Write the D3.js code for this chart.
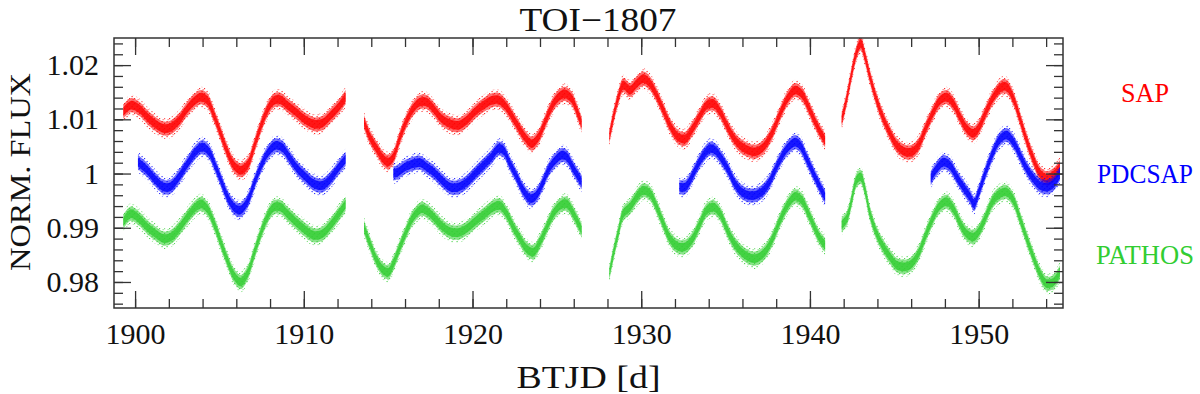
<!DOCTYPE html>
<html>
<head>
<meta charset="utf-8">
<script src="https://cdn.jsdelivr.net/npm/d3@7"></script>
<style>
  body { margin: 0; background: #fff; }
  svg { display: block; }
  text { font-family: "Liberation Serif", "DejaVu Serif", serif; }
</style>
</head>
<body>
<script>
// TOI-1807 light curves (BTJD, normalised flux)
var sap = [
  [1899.30,1.0114],[1899.74,1.0126],[1900.23,1.0120],[1900.73,1.0104],[1901.22,1.0091],[1901.71,1.0083],
  [1902.11,1.0085],[1902.60,1.0098],[1903.10,1.0120],[1903.59,1.0136],[1903.93,1.0141],[1904.28,1.0135],
  [1904.68,1.0107],[1905.07,1.0074],[1905.47,1.0040],[1905.86,1.0015],[1906.26,1.0006],[1906.65,1.0015],
  [1907.05,1.0049],[1907.44,1.0086],[1907.84,1.0117],[1908.23,1.0135],[1908.63,1.0136],[1909.02,1.0126],
  [1909.52,1.0114],[1910.01,1.0101],[1910.60,1.0091],[1911.10,1.0093],[1911.59,1.0107],[1912.09,1.0124],
  [1912.48,1.0141],
  [1913.57,1.0095],[1913.92,1.0067],[1914.32,1.0046],[1914.71,1.0027],[1915.01,1.0021],[1915.31,1.0031],
  [1915.70,1.0067],[1916.10,1.0098],[1916.49,1.0120],[1916.89,1.0132],[1917.28,1.0132],[1917.68,1.0120],
  [1918.17,1.0101],[1918.67,1.0092],[1919.16,1.0089],[1919.65,1.0098],[1920.15,1.0114],[1920.64,1.0126],
  [1921.14,1.0135],[1921.53,1.0136],[1921.93,1.0126],[1922.32,1.0107],[1922.72,1.0086],[1923.11,1.0067],
  [1923.51,1.0055],[1923.90,1.0067],[1924.30,1.0095],[1924.69,1.0123],[1925.09,1.0141],[1925.48,1.0147],
  [1925.88,1.0138],[1926.17,1.0117],[1926.47,1.0092],
  [1928.11,1.0067],[1928.35,1.0104],[1928.65,1.0141],[1928.94,1.0163],[1929.34,1.0154],[1929.73,1.0166],
  [1930.13,1.0175],[1930.52,1.0166],[1930.92,1.0144],[1931.31,1.0117],[1931.71,1.0089],[1932.20,1.0067],
  [1932.60,1.0064],[1932.99,1.0080],[1933.49,1.0107],[1933.88,1.0126],[1934.28,1.0129],[1934.67,1.0114],
  [1935.07,1.0089],[1935.46,1.0067],[1935.86,1.0052],[1936.35,1.0043],[1936.75,1.0040],[1937.24,1.0049],
  [1937.74,1.0074],[1938.23,1.0110],[1938.72,1.0141],[1939.12,1.0154],[1939.51,1.0147],[1939.91,1.0123],
  [1940.31,1.0095],[1940.60,1.0077],[1940.90,1.0061],
  [1941.88,1.0098],[1942.18,1.0138],[1942.47,1.0184],[1942.77,1.0224],[1943.01,1.0240],[1943.27,1.0215],
  [1943.56,1.0178],[1943.96,1.0135],[1944.35,1.0101],[1944.75,1.0074],[1945.14,1.0052],[1945.64,1.0040],
  [1946.03,1.0040],[1946.43,1.0052],[1946.82,1.0080],[1947.32,1.0114],[1947.71,1.0135],[1948.11,1.0141],
  [1948.50,1.0129],[1948.90,1.0104],[1949.29,1.0083],[1949.69,1.0074],[1949.98,1.0083],[1950.38,1.0110],
  [1950.87,1.0141],[1951.37,1.0160],[1951.66,1.0160],[1952.06,1.0138],[1952.45,1.0101],[1952.85,1.0061],
  [1953.24,1.0027],[1953.64,1.0000],[1954.03,0.9991],[1954.43,0.9997],[1954.82,1.0012]
];

var pdcsap = [
  [1900.17,1.0021],[1900.73,1.0006],[1901.22,0.9988],[1901.71,0.9975],[1902.11,0.9976],[1902.60,0.9994],
  [1903.10,1.0018],[1903.59,1.0040],[1903.99,1.0049],[1904.38,1.0040],[1904.78,1.0012],[1905.17,0.9981],
  [1905.57,0.9951],[1905.96,0.9935],[1906.26,0.9933],[1906.65,0.9948],[1907.05,0.9981],[1907.44,1.0012],
  [1907.84,1.0037],[1908.33,1.0052],[1908.73,1.0048],[1909.12,1.0031],[1909.62,1.0009],[1910.11,0.9994],
  [1910.61,0.9981],[1911.10,0.9978],[1911.59,0.9991],[1912.09,1.0012],[1912.48,1.0027],
  [1915.31,1.0000],[1915.60,1.0003],[1916.00,1.0012],[1916.49,1.0018],[1916.89,1.0020],[1917.28,1.0012],
  [1917.68,1.0003],[1918.17,0.9988],[1918.67,0.9975],[1919.16,0.9975],[1919.65,0.9984],[1920.15,1.0000],
  [1920.64,1.0015],[1921.14,1.0031],[1921.53,1.0046],[1921.83,1.0043],[1922.22,1.0018],[1922.62,0.9994],
  [1923.01,0.9969],[1923.41,0.9954],[1923.70,0.9957],[1924.10,0.9978],[1924.49,1.0006],[1924.89,1.0024],
  [1925.28,1.0034],[1925.58,1.0031],[1925.98,1.0009],[1926.47,0.9984],
  [1932.26,0.9975],[1932.60,0.9975],[1932.90,0.9988],[1933.29,1.0012],[1933.69,1.0034],[1934.08,1.0046],
  [1934.38,1.0043],[1934.77,1.0027],[1935.17,1.0006],[1935.56,0.9981],[1935.96,0.9966],[1936.35,0.9960],
  [1936.75,0.9960],[1937.14,0.9966],[1937.54,0.9981],[1937.93,1.0006],[1938.33,1.0031],[1938.72,1.0049],
  [1939.12,1.0058],[1939.42,1.0052],[1939.81,1.0027],[1940.21,1.0000],[1940.60,0.9975],[1940.90,0.9957],
  [1947.16,0.9991],[1947.51,1.0009],[1947.91,1.0021],[1948.30,1.0015],[1948.70,0.9994],[1949.09,0.9975],
  [1949.49,0.9957],[1949.73,0.9944],[1949.98,0.9963],[1950.38,1.0000],[1950.87,1.0040],[1951.27,1.0064],
  [1951.66,1.0071],[1952.06,1.0058],[1952.45,1.0034],[1952.85,1.0009],[1953.24,0.9991],[1953.64,0.9978],
  [1954.03,0.9975],[1954.43,0.9981],[1954.82,1.0000]
];

var pathos = [
  [1899.30,0.9911],[1899.74,0.9926],[1900.23,0.9917],[1900.73,0.9901],[1901.22,0.9889],[1901.71,0.9880],
  [1902.11,0.9883],[1902.60,0.9898],[1903.10,0.9920],[1903.59,0.9938],[1903.93,0.9944],[1904.28,0.9935],
  [1904.68,0.9908],[1905.07,0.9874],[1905.47,0.9840],[1905.86,0.9812],[1906.26,0.9800],[1906.65,0.9815],
  [1907.05,0.9852],[1907.44,0.9889],[1907.84,0.9920],[1908.23,0.9938],[1908.63,0.9938],[1909.02,0.9926],
  [1909.52,0.9911],[1910.01,0.9898],[1910.60,0.9886],[1911.10,0.9889],[1911.59,0.9905],[1912.09,0.9926],
  [1912.48,0.9944],
  [1913.57,0.9901],[1913.92,0.9871],[1914.32,0.9840],[1914.71,0.9822],[1915.01,0.9818],[1915.31,0.9834],
  [1915.70,0.9865],[1916.10,0.9895],[1916.49,0.9920],[1916.99,0.9935],[1917.38,0.9929],[1917.78,0.9917],
  [1918.27,0.9901],[1918.76,0.9892],[1919.26,0.9892],[1919.75,0.9901],[1920.25,0.9914],[1920.74,0.9926],
  [1921.23,0.9938],[1921.63,0.9941],[1922.02,0.9926],[1922.42,0.9901],[1922.81,0.9880],[1923.21,0.9861],
  [1923.60,0.9855],[1924.00,0.9874],[1924.40,0.9901],[1924.79,0.9926],[1925.19,0.9941],[1925.58,0.9944],
  [1925.98,0.9926],[1926.47,0.9895],
  [1928.11,0.9815],[1928.35,0.9852],[1928.65,0.9892],[1928.94,0.9926],[1929.34,0.9938],[1929.73,0.9957],
  [1930.13,0.9969],[1930.52,0.9963],[1930.92,0.9938],[1931.31,0.9908],[1931.71,0.9880],[1932.20,0.9865],
  [1932.60,0.9865],[1932.99,0.9877],[1933.49,0.9908],[1933.88,0.9932],[1934.28,0.9938],[1934.67,0.9926],
  [1935.07,0.9898],[1935.46,0.9874],[1935.86,0.9858],[1936.35,0.9846],[1936.75,0.9843],[1937.24,0.9852],
  [1937.74,0.9877],[1938.23,0.9914],[1938.72,0.9944],[1939.12,0.9958],[1939.51,0.9951],[1939.91,0.9926],
  [1940.31,0.9898],[1940.60,0.9880],[1940.90,0.9868],
  [1941.88,0.9905],[1942.18,0.9917],[1942.47,0.9951],[1942.77,0.9988],[1943.01,0.9994],[1943.27,0.9969],
  [1943.56,0.9926],[1943.96,0.9889],[1944.35,0.9865],[1944.75,0.9846],[1945.14,0.9831],[1945.64,0.9828],
  [1946.03,0.9834],[1946.43,0.9852],[1946.82,0.9883],[1947.32,0.9920],[1947.71,0.9941],[1948.11,0.9948],
  [1948.50,0.9935],[1948.90,0.9908],[1949.29,0.9889],[1949.69,0.9883],[1949.98,0.9892],[1950.38,0.9917],
  [1950.87,0.9951],[1951.27,0.9963],[1951.66,0.9966],[1952.06,0.9951],[1952.45,0.9917],[1952.85,0.9880],
  [1953.24,0.9846],[1953.64,0.9815],[1954.03,0.9797],[1954.43,0.9800],[1954.82,0.9818]
];

var seriesNames = ["SAP", "PDCSAP", "PATHOS"];
var seriesColors = ["#ff0000", "#0000ff", "#32cd32"];

// ticks
var xMajorTicks = [1900, 1910, 1920, 1930, 1940, 1950];
var xMinorTicks = d3.range(1900, 1955, 2);
var yMajorTicks = [0.98, 0.99, 1.00, 1.01, 1.02];
var yTickLabels = ["0.98", "0.99", "1", "1.01", "1.02"];
var yMinorTicks = d3.range(0.976, 1.0251, 0.002);

//Define Margin
var margin = {left: 114, right: 137, top: 38, bottom: 86},
    width = 1200 - margin.left - margin.right,
    height = 394 - margin.top - margin.bottom;

var svg = d3.select("body")
    .append("svg")
    .attr("width", 1200)
    .attr("height", 394);

//speckle patterns so the outer part of each band looks like scattered points
var defs = svg.append("defs");
seriesColors.forEach(function(c, k) {
  var p = defs.append("pattern")
    .attr("id", "speck" + k)
    .attr("patternUnits", "userSpaceOnUse")
    .attr("width", 5).attr("height", 5);
  p.append("rect").attr("x", 0).attr("y", 0).attr("width", 1.2).attr("height", 1.2).attr("fill", c);
  p.append("rect").attr("x", 2.5).attr("y", 3).attr("width", 1.2).attr("height", 1.2).attr("fill", c);
  p.append("rect").attr("x", 3.6).attr("y", 1.2).attr("width", 1).attr("height", 1).attr("fill", c);
});

var g = svg.append("g")
    .attr("transform", "translate(" + margin.left + "," + margin.top + ")");

//Define Scales
var xScale = d3.scaleLinear().domain([1898.75, 1955]).range([0, width]);
var yScale = d3.scaleLinear().domain([0.9752, 1.0250]).range([height, 0]);

g.append("clipPath").attr("id", "plotclip")
  .append("rect").attr("width", width).attr("height", height);

// split a series where the data has a gap (between TESS orbits / sectors)
function segments(data) {
  var out = [], cur = [];
  data.forEach(function(d, i) {
    if (i > 0 && d[0] - data[i - 1][0] > 0.8) { out.push(cur); cur = []; }
    cur.push(d);
  });
  out.push(cur);
  return out;
}

// scatter band: a speckled outer cloud plus a denser core
function band(half) {
  return d3.area()
    .curve(d3.curveCatmullRom)
    .x(function(d) { return xScale(d[0]); })
    .y0(function(d) { return yScale(d[1] - half); })
    .y1(function(d) { return yScale(d[1] + half); });
}
var outer = band(0.0019), mid = band(0.0013), inner = band(0.0008);

var plot = g.append("g").attr("clip-path", "url(#plotclip)");
[sap, pdcsap, pathos].forEach(function(s, k) {
  var segs = segments(s);
  plot.selectAll(".outer" + k).data(segs).enter().append("path")
    .attr("d", outer)
    .attr("fill", "url(#speck" + k + ")")
    .attr("opacity", 0.8);
  plot.selectAll(".mid" + k).data(segs).enter().append("path")
    .attr("d", mid)
    .attr("fill", seriesColors[k])
    .attr("opacity", 0.55);
  plot.selectAll(".inner" + k).data(segs).enter().append("path")
    .attr("d", inner)
    .attr("fill", seriesColors[k])
    .attr("opacity", 0.8);
});

// axes, ticks point inward on all four sides
function noLabel() { return ""; }
g.append("g").attr("class", "axis")
  .attr("transform", "translate(0," + height + ")")
  .call(d3.axisBottom(xScale).tickValues(xMinorTicks).tickSize(-9).tickSizeOuter(0).tickFormat(noLabel));
g.append("g").attr("class", "axis")
  .attr("transform", "translate(0," + height + ")")
  .call(d3.axisBottom(xScale).tickValues(xMajorTicks).tickSize(-17).tickSizeOuter(0).tickPadding(15).tickFormat(d3.format("d")));
g.append("g").attr("class", "axis")
  .call(d3.axisTop(xScale).tickValues(xMinorTicks).tickSize(-9).tickSizeOuter(0).tickFormat(noLabel));
g.append("g").attr("class", "axis")
  .call(d3.axisTop(xScale).tickValues(xMajorTicks).tickSize(-17).tickSizeOuter(0).tickFormat(noLabel));

g.append("g").attr("class", "axis")
  .call(d3.axisLeft(yScale).tickValues(yMinorTicks).tickSize(-9).tickSizeOuter(0).tickFormat(noLabel));
g.append("g").attr("class", "axis")
  .call(d3.axisLeft(yScale).tickValues(yMajorTicks).tickSize(-17).tickSizeOuter(0).tickPadding(15)
    .tickFormat(function(d, i) { return yTickLabels[i]; }));
g.append("g").attr("class", "axis")
  .attr("transform", "translate(" + width + ",0)")
  .call(d3.axisRight(yScale).tickValues(yMinorTicks).tickSize(-9).tickSizeOuter(0).tickFormat(noLabel));
g.append("g").attr("class", "axis")
  .attr("transform", "translate(" + width + ",0)")
  .call(d3.axisRight(yScale).tickValues(yMajorTicks).tickSize(-17).tickSizeOuter(0).tickFormat(noLabel));

g.selectAll(".axis .domain").remove();
g.selectAll(".axis line").attr("stroke", "#333").attr("stroke-width", 1.3);
g.selectAll(".axis text")
  .attr("fill", "#111")
  .style("font-family", "'Liberation Serif', serif")
  .style("font-size", "30px");

// frame
g.append("rect")
  .attr("width", width).attr("height", height)
  .attr("fill", "none").attr("stroke", "#333").attr("stroke-width", 1.5);

// title and axis labels
svg.append("text")
  .attr("x", 598).attr("y", 31)
  .attr("text-anchor", "middle")
  .attr("textLength", 157).attr("lengthAdjust", "spacingAndGlyphs")
  .style("font-size", "33px").attr("fill", "#111")
  .text("TOI\u22121807");

svg.append("text")
  .attr("x", margin.left + width / 2).attr("y", 388)
  .attr("text-anchor", "middle")
  .attr("textLength", 144).attr("lengthAdjust", "spacingAndGlyphs")
  .style("font-size", "31px").attr("fill", "#111")
  .text("BTJD [d]");

svg.append("text")
  .attr("transform", "translate(30,172) rotate(-90)")
  .attr("text-anchor", "middle")
  .attr("textLength", 198).attr("lengthAdjust", "spacingAndGlyphs")
  .style("font-size", "30px").attr("fill", "#111")
  .text("NORM. FLUX");

// series labels on the right
var legendY = [102, 183, 264];
var legendW = [48, 96, 98];
svg.selectAll(".lbl").data(seriesNames).enter().append("text")
  .attr("class", "lbl")
  .attr("x", 1145)
  .attr("y", function(d, i) { return legendY[i]; })
  .attr("text-anchor", "middle")
  .attr("textLength", function(d, i) { return legendW[i]; })
  .attr("lengthAdjust", "spacingAndGlyphs")
  .style("font-size", "27px")
  .attr("fill", function(d, i) { return seriesColors[i]; })
  .text(function(d) { return d; });
</script>
</body>
</html>
